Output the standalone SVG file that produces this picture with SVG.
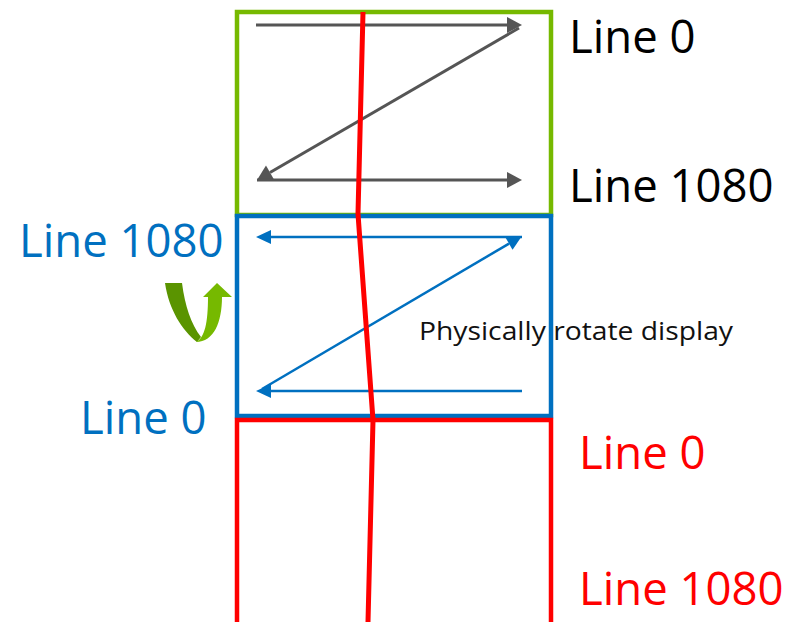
<svg xmlns="http://www.w3.org/2000/svg" width="786" height="622" viewBox="0 0 786 622">
<style>
.lbl{font-family:"Open Sans","Liberation Sans",sans-serif;font-size:45.5px}
.box{fill:none;stroke-width:4.5}
.g{stroke:#555555;stroke-width:3;fill:none}
.b{stroke:#0070c0;stroke-width:2.5;fill:none}
</style>
<defs>
<marker id="ag" markerUnits="userSpaceOnUse" markerWidth="16" markerHeight="16" refX="0" refY="8" orient="auto" overflow="visible">
<path d="M0,0 L15,8 L0,16 Z" fill="#555555"/>
</marker>
<marker id="ab" markerUnits="userSpaceOnUse" markerWidth="16" markerHeight="14" refX="0" refY="7" orient="auto" overflow="visible">
<path d="M0,0 L15,7 L0,14 Z" fill="#0070c0"/>
</marker>
</defs>
<rect width="786" height="622" fill="#ffffff"/>
<g id="frame-original">
<rect class="box" x="237" y="12" width="314" height="203" stroke="#76b900"/>
<text class="lbl" x="569" y="53" fill="#000000">Line 0</text>
<text class="lbl" x="569" y="202" fill="#000000">Line 1080</text>
</g>
<g id="frame-rotated">
<text x="419" y="340" font-family="'Open Sans','Liberation Sans',sans-serif" font-size="26" fill="#111111" textLength="314" lengthAdjust="spacingAndGlyphs">Physically rotate display</text>
<rect class="box" x="237" y="216" width="314" height="200" stroke="#0070c0"/>
<text class="lbl" x="19" y="257" fill="#0070c0">Line 1080</text>
<text class="lbl" x="80" y="434" fill="#0070c0">Line 0</text>
</g>
<g id="rotate-icon">
<path d="M165,283 L182,283 C185,306 191,324 201,337 L197,342 C182,330 169,310 165,283 Z" fill="#5a9400"/>
<path d="M196,342 C205,338 208,322 208,297 L203,297 L217,283 L232,297 L222,297 C222,322 214,342 196,342 Z" fill="#76b900"/>
</g>
<g id="frame-output">
<rect class="box" x="237" y="420" width="314" height="215" stroke="#ff0000" stroke-width="5"/>
<text class="lbl" x="579" y="469" fill="#ff0000">Line 0</text>
<text class="lbl" x="579" y="605" fill="#ff0000">Line 1080</text>
</g>
<g id="connectors">
<path class="g" d="M256,25 L507,25" marker-end="url(#ag)"/>
<path class="g" d="M519,28 L270,172.5" marker-end="url(#ag)"/>
<path class="g" d="M257,180 L507,180" marker-end="url(#ag)"/>
<path class="b" d="M522,237 L271,237" marker-end="url(#ab)"/>
<path class="b" d="M262,389 L509,243.6" marker-end="url(#ab)"/>
<path class="b" d="M522,391 L271,391" marker-end="url(#ab)"/>
<polyline points="363,12 358,214 373,420 368,622" fill="none" stroke="#ff0000" stroke-width="5"/>
</g>
</svg>
